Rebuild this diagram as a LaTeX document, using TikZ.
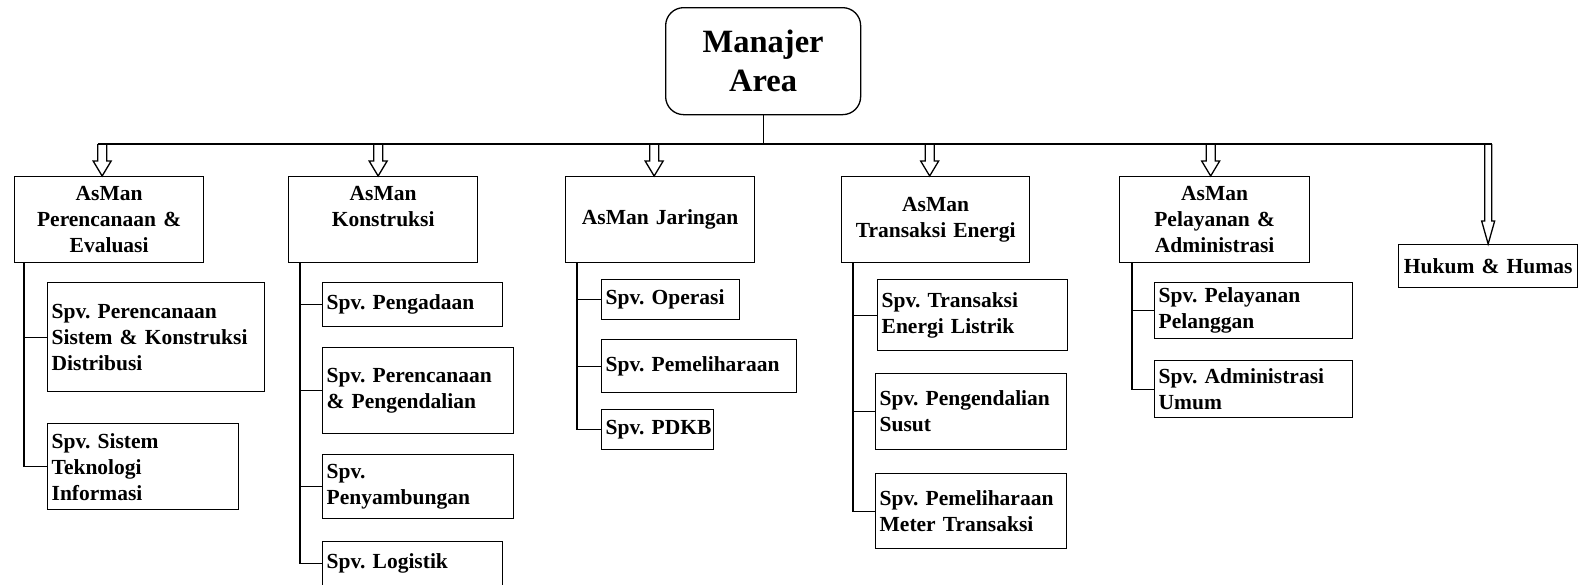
\documentclass[tikz,border=0pt]{standalone}
\usepackage{fontspec}
\setmainfont{Liberation Serif}
\usetikzlibrary{calc}
\frenchspacing

\begin{document}
\begin{tikzpicture}[x=1pt, y=-1pt, line width=1.3pt,
    every node/.style={font=\bfseries\fontsize{21.5}{26}\selectfont},
    box/.style={draw, anchor=north west, inner xsep=4pt, inner ysep=0pt},
    asman/.style={box, align=center},
    spv/.style={box, align=left},
    hollow/.style n args={3}{to path={let \p1=(\tikztostart), \p2=(\tikztotarget) in
      (\x2-#1,\y1) -- (\x2-#1,\y2+#3) -- (\x2-#2,\y2+#3) -- (\x2,\y2)
      -- (\x2+#2,\y2+#3) -- (\x2+#1,\y2+#3) -- (\x2+#1,\y1)}},
    openarrow/.style={hollow={4.5pt}{9pt}{15pt}}]
    \useasboundingbox (0,0) rectangle (1579,584);

    % top
    \node[draw, anchor=north west, rounded corners=18pt, align=center,
      minimum width=195pt, minimum height=107pt,
      font=\bfseries\fontsize{32.5}{39}\selectfont] (ma) at (665,7) {Manajer\\Area};

    % asisten manajer
    \node[asman, text width=181pt, minimum height=86pt] (pe) at (14,176) {AsMan\\Perencanaan \&\\Evaluasi};
    \node[asman, text width=181pt, minimum height=86pt] (ko) at (288,176) {AsMan\\Konstruksi\\~};
    \node[asman, text width=181pt, minimum height=86pt] (ja) at (565,176) {AsMan Jaringan};
    \node[asman, text width=180pt, minimum height=86pt] (te) at (841,176) {AsMan\\Transaksi Energi};
    \node[asman, text width=182pt, minimum height=86pt] (pa) at (1119,176) {AsMan\\Pelayanan \&\\Administrasi};
    \node[asman, text width=171pt, minimum height=43pt] (hh) at (1398,244) {Hukum \& Humas};

    % supervisor
    \node[spv, text width=209pt, minimum height=109pt] (pe1) at (47,282) {Spv. Perencanaan\\Sistem~\&~Konstruksi\\Distribusi};
    \node[spv, text width=183pt, minimum height=86pt] (pe2) at (47,423) {Spv. Sistem\\Teknologi\\Informasi};
    \node[spv, text width=172pt, minimum height=44pt] (ko1) at (322,282) {Spv. Pengadaan};
    \node[spv, text width=183pt, minimum height=86pt] (ko2) at (322,347) {Spv. Perencanaan\\\& Pengendalian};
    \node[spv, text width=183pt, minimum height=64pt] (ko3) at (322,454) {Spv.\\Penyambungan};
    \node[spv, text width=172pt, minimum height=44pt] (ko4) at (322,541) {Spv. Logistik};
    \node[spv, text width=130pt, minimum height=40pt] (ja1) at (601,279) {Spv. Operasi};
    \node[spv, text width=187pt, minimum height=53pt] (ja2) at (601,339) {Spv. Pemeliharaan};
    \node[spv, text width=104pt, minimum height=40pt] (ja3) at (601,409) {Spv.~PDKB};
    \node[spv, text width=182pt, minimum height=71pt] (te1) at (877,279) {Spv. Transaksi\\Energi Listrik};
    \node[spv, text width=183pt, minimum height=76pt] (te2) at (875,373) {Spv. Pengendalian\\Susut};
    \node[spv, text width=183pt, minimum height=75pt] (te3) at (875,473) {Spv. Pemeliharaan\\Meter Transaksi};
    \node[spv, text width=190pt, minimum height=56pt] (pa1) at (1154,282) {Spv. Pelayanan\\Pelanggan};
    \node[spv, text width=190pt, minimum height=57pt] (pa2) at (1154,360) {Spv. Administrasi\\Umum};

    % bus
    \coordinate (bus) at (764,144);
    \draw (ma.south) -- (ma.south |- bus);
    \foreach \a/\s in {pe/-7, ko/-5, ja/-6, te/-6, pa/-4} {
      \coordinate (t\a) at ([xshift=\s pt]\a.north);
      \coordinate (b\a) at (t\a |- bus);
      \draw[openarrow] (b\a) to (t\a);
    }
    \coordinate (thh) at (hh.north);
    \coordinate (bhh) at (thh |- bus);
    \draw[hollow={3.5pt}{6.5pt}{23pt}] (bhh) to (thh);
    \draw ([xshift=-4.5pt]bpe) -- ([xshift=3.5pt]bhh);

    % cabang
    \foreach \a/\s/\b in {pe/10/pe1, pe/10/pe2, ko/12/ko1, ko/12/ko2, ko/12/ko3, ko/12/ko4,
      ja/12/ja1, ja/12/ja2, ja/12/ja3, te/12/te1, te/12/te2, te/12/te3, pa/13/pa1, pa/13/pa2}
      \draw ([xshift=\s pt]\a.south west) |- (\b.west);
  \end{tikzpicture}
\end{document}
